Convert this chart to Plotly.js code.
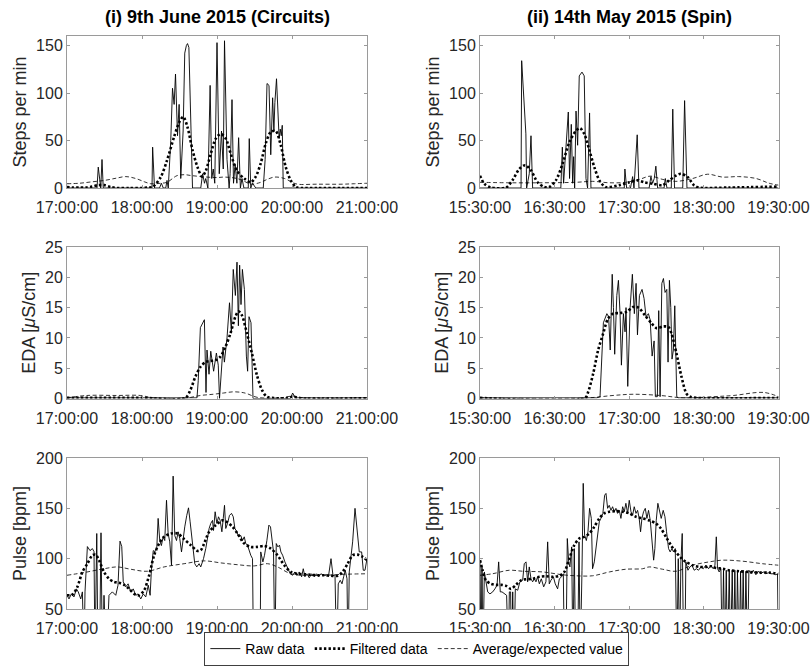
<!DOCTYPE html>
<html>
<head>
<meta charset="utf-8">
<script src="https://cdn.plot.ly/plotly-3.0.1.min.js"></script>
<style>html,body{margin:0;padding:0;background:#fff;}#chart{width:811px;height:666px;}</style>
</head>
<body>
<div id="chart"></div>
<script>
// ---------- tick labels (minutes from start of each session) ----------
const tickMinutes = [0, 60, 120, 180, 240];
const ticksLeft = ['17:00:00', '18:00:00', '19:00:00', '20:00:00', '21:00:00'];
const ticksRight = ['15:30:00', '16:30:00', '17:30:00', '18:30:00', '19:30:00'];
const colTitles = ['(i) 9th June 2015 (Circuits)', '(ii) 14th May 2015 (Spin)'];
const rowLabels = ['Steps per min', 'EDA [<i>\u03bc</i>S/cm]', 'Pulse [bpm]'];
const seriesNames = ['Raw data', 'Filtered data', 'Average/expected value'];

// ---------- (i) Steps ----------
const stepsL_rawT = [0,24,25,26.5,27,28,29,68,68.5,70,74,75.5,77,79,80,81,83,84.4,85.7,86.8,88.4,89.7,91,92.9,94.2,95.5,96.4,97.5,100.4,107,108.5,110,111,112.7,114.5,115.8,117,118.2,120,121.8,123.6,125,126,128,129.7,130.5,132,133.2,134.5,135.9,137.3,138.7,140,141.5,145,145.8,147,148.4,151,157,158.5,160,161.6,163,164.5,165.5,166.3,167.6,168.7,169.7,170.6,171.4,172.2,173,240];
const stepsL_rawV = [0,0,22,0,0,30,0,0,43,0,0,5,0,0,8,0,50,105,88,120,55,88,10,60,142,150,152,148,0,0,15,5,10,0,108,10,20,5,153,15,60,20,155,30,0,15,93,5,25,5,53,0,10,0,0,52,0,5,0,0,30,110,108,35,95,60,90,115,70,52,62,55,66,0,0];
const stepsL_filtT = [0,5,10,15,20,25,30,35,40,50,60,65,68.5,75,80,85.7,89.7,93,96.4,100.4,104.4,108,111,115,119,123,127,131,136,141.8,147,151,155,159,163,167,171,175,179,183,187,200,220,240];
const stepsL_filtV = [1,0.5,0.5,0.5,1.5,3,3,1,0,0,0,0.5,1,11.5,29,54,69,75,64,40,22,12,18,36,52,57,52,36,18,10,6,12,26,47,59,60,45,22,8,1,0,0,0,0];
const stepsL_avgT = [0,10,20,30,40,47,55,62,67,75,80,88,94,100,112,120,126,136,142,147,155,160,166,174,180,184.5,200,220,230,240];
const stepsL_avgV = [4.5,5,6.5,8,10.5,12,10,6.5,4.5,5,6,13,14,13,11.5,11,11.5,10,7,4,6,9,11.5,10,6,4,4,4,4.5,5];

// ---------- (ii) Steps ----------
const stepsR_rawT = [0,33,33.5,36.9,37.5,39.6,41,42.3,65,66.2,67.2,68.6,71,72,73.4,74.5,75.3,76.1,77.2,78.5,79.8,82,83.8,85.2,86.5,88.1,89.2,116,116.5,117.9,121,122.7,123.8,126.4,127.8,136,137.4,138.8,140.1,141.4,142.8,148,149,150.3,153.8,155,156.4,163,164.5,166.4,240];
const stepsR_rawV = [0,0,134,57,0,15,55,0,0,43,5,35,80,10,67,5,33,0,81,45,118,122,118,10,0,79,0,0,20,0,0,12,0,56,0,0,12,5,10,23,0,0,10,0,0,83,0,0,92,0,0];
const stepsR_filtT = [0,3.5,8.8,21,26,31.6,36.4,41,46.3,51.7,55.7,61,66.4,71.8,77,80.4,83.8,87.9,91.9,96,101,112,120,126.7,132,138.8,146.8,152,157.5,161.5,166.9,172,176,200,240];
const stepsR_filtV = [13,4.5,0.5,0.5,8,20,24,18.5,6,1,1,8,25.5,48,60,63,57,40,22,8,1,3,6,8,6,4.5,3,8,13,15,11.5,3,0.5,0.5,1.5];
const stepsR_avgT = [0,23.6,50,77,90.5,104,117,128,137,147,157.5,171,183,195,208,222,232.5,240];
const stepsR_avgV = [6,5.5,5.5,6,7,5.5,6,9,12.5,9,7,10,14.5,11.5,12,10,5,3];

// ---------- (i) EDA ----------
const edaL_rawT = [0,104,105,106.7,109.9,111.2,112,113.6,115,117.3,119.5,121,122,124.8,125.9,128,130,131.5,133,134.7,136,137.1,138.1,139.2,140.3,141.9,143.5,144.5,145.6,147.2,148.8,178.7,180.5,182.7,240];
const edaL_rawV = [0.1,0.1,3,11.7,13,1,8,4,7.8,4.5,7.5,5.5,0,8.5,6,10,15.8,11,21.3,17,22.5,12,22,15.5,21.3,18,7,4.5,13.5,12.5,0,0,0.9,0.1,0.1];
const edaL_filtT = [0,60,94.7,98.7,102.7,106.7,110.7,114.7,118.7,122.7,126.7,130.7,134.7,137.3,140,144,148,152,156,160,175,180.5,186,240];
const edaL_filtV = [0.1,0.1,0.1,1.4,3.6,5.2,6,6.2,6.3,6.9,8.5,10.7,13.5,14.4,13.7,10.7,7.4,3.8,1.4,0.3,0.05,0.3,0.05,0.05];
const edaL_avgT = [0,16,40,58.7,69,96,106.7,117,125,133,140,144,152,170,181,190,240];
const edaL_avgV = [0.1,0.5,0.5,0.5,0.1,0.1,0.5,0.7,0.9,1.1,1.0,0.8,0.2,0.1,0.4,0.1,0.1];

// ---------- (ii) EDA ----------
const edaR_rawT = [0,94,96.5,99.2,102,103.4,104.7,106.3,107.3,108.3,110,111.3,112.6,113.7,115.3,116.6,117.4,118.8,120.7,122.5,124.1,125.5,126.6,128.2,130.3,131.9,133.5,135.4,136.8,138.4,140,141,142.6,143.7,144.8,146.2,147.5,148.8,150.2,151.2,152.3,153.4,154.4,155.5,156.6,158.2,159.5,240];
const edaR_rawV = [0.1,0.1,0.3,12.5,14,13.5,8,20.5,15,7.3,17,19.5,14,5.5,14,11,15,2,15,20.5,14,19,10.5,17,18,16.5,13.5,14,13,7,9.5,0.3,0.3,14.5,0.3,19,19.8,17.5,18,6,19.5,15,6.5,8,15.3,0.3,0.1,0.1];
const edaR_filtT = [0,84.5,87,91,95,99,103,107,112.6,118,123,127.4,132.7,138,142,147.5,151.5,154,158,162,166,169,175,240];
const edaR_filtV = [0.1,0.1,1.1,4.1,8,10.7,13.2,14,14.1,14.3,15.1,15,13.7,12.4,11.6,11.9,11.8,10.7,7.4,3.6,0.8,0.3,0.1,0.1];
const edaR_avgT = [0,86,107,123,145,163.6,187.7,203.8,228,240];
const edaR_avgV = [0.1,0.1,0.5,0.7,0.5,0.1,0.3,0.5,1.0,0.3];

// ---------- (i) Pulse ----------
const pulseL_rawT = [0,1.6,3.5,5.6,7.5,9,11,12.3,13.6,14.4,16.3,18.4,20.3,21.6,22.4,23.8,24.8,26,27.2,28.3,29.6,31.5,33.6,36.3,39,40.8,42.4,43.8,45,47,48.9,51,53,55,56.9,59,61,63,65,66.5,67.5,69,70.5,71.8,72.9,74.2,75.5,76.9,78.2,79.6,80.9,82.2,83.6,84.9,86.2,87.6,88.9,90.2,91.6,92.9,94.2,95.8,97.2,98.5,100.4,102.2,103.8,105.7,107,109.2,111,112.4,113.7,115,116.4,117.2,118.5,119.9,121.2,122.5,123.9,125,126,127,128.4,130,131.6,133,134.3,135.9,137.2,139,140.4,141.8,143,144.4,145.8,147,148.4,149.2,154.5,155,156.7,158,159.9,161.5,162.8,164.2,165.2,166.3,167.4,168.7,170,171.1,172.5,174.3,176.5,178.6,180.5,182.3,183.9,185.8,187.7,189,190.3,191.9,193.8,195.7,197.8,199.7,201.3,203.1,205.3,207.2,209.3,211.2,212.8,214.4,215.7,217,218.6,220,221.3,222.6,224,224.8,225.8,227.2,228.5,230.4,232,233.8,235.7,237,238.4,240];
const pulseL_rawV = [63.6,60,65,62,70,67,60,67,0,67,112,108,110,107,0,125,0,0,125.7,0,63.6,0,63.6,67,63.6,73.6,117.4,112,77,72,75,67,70,63.6,65,60,65,62,73.6,63.6,88.5,108,107,110,140,118,113,121.7,118,158,125,116.7,93.5,182,123,118,126.7,120,106.7,120,131.6,143,150.5,136.6,113.4,95,91.8,95,91.8,100,110,123,130,135,138,128,146.6,135,141.6,138,126.7,140,153,130,135,143,145,141.6,130,126.7,121.7,123,118,121.7,115,113.4,106.7,103.4,100,0,0,106.7,96.8,103.4,118,133.3,131.6,113.4,106.7,0,115,111.7,113.4,106.7,103.4,96.8,90,85,83.5,86.8,83.5,86.8,82,90,82,85,81,85,82,85,82,85,83.5,84,83.5,100,83,84,0,75,78.5,75,82,88.5,80,0,86.8,100,116.7,150,126.7,106.7,106.7,88.5,88.5,100];
const pulseL_filtT = [0,4.3,8.3,12.3,16.3,20.3,23,25.6,29.6,33.6,37.6,41.6,45.6,49.7,53.7,57.7,61.7,65.7,69.7,73.7,77.7,83,88.4,93.7,99,104.4,107,109.7,113.7,119,124.4,128.4,132.4,136.4,141.8,147,152.4,157.8,163,168.4,173.8,179.1,184.5,189.8,195,200.5,205.8,211,216.5,220.5,224.5,228.5,232.5,236.5,240];
const pulseL_filtV = [63.6,64.3,72,86.8,95,103.4,104,98.5,86.8,80,77,76,74,70,65,63.6,68.6,83.5,103.4,115,121.7,125,125,119.4,113.4,107.7,108.4,115,126.7,133.3,138,136,131.6,125,115,111.7,111.7,112.7,110,103.4,93.5,86.8,85,84.5,84,83.5,83.5,83,83,86.8,95,103.4,104,101.8,98.5];
const pulseL_avgT = [0,13.6,29.6,40.3,51,64.3,77.7,93.7,109.7,123,136.4,149.8,160.4,168.4,179,189.8,205.8,221.8,240];
const pulseL_avgV = [83.5,86.2,90,91.8,89.5,87.5,91.8,95,97.8,95.8,94,92.8,95,91.8,85,83.5,83.5,84.5,85];

// ---------- (ii) Pulse ----------
const pulseR_rawT = [0,0.8,1.6,2.4,3.5,4.8,6.2,8,10.2,12,13.7,15,16.3,17.7,19.6,21.4,22.8,23.6,24.6,25.4,26.3,27.3,28.4,30.3,32.1,34.3,35.6,37,38.3,39.6,41,42.3,43.7,45,46.3,47.7,49.3,51.2,53,54.4,55.7,57,59,60.5,62.4,63.8,65.6,67,67.8,69.1,70.2,71.3,72.3,73.7,74.7,75.8,76.9,78.5,79.6,80.6,82,83,84.1,85.5,86.8,88.1,89.5,90.5,91.9,93.2,94.6,95.9,97.2,98.8,100.2,101.3,102.6,103.9,105.3,106.6,108,109.3,110.6,112,113.3,114.7,116,117.3,118.7,120,121.4,122.7,124,125.4,126.7,128,129.1,130.2,131.5,132.9,134.2,135.5,136.9,138.2,139.6,140.6,141.7,143,144.4,145.7,147.3,148.7,150,151.6,152.9,154.3,155.6,157,158.3,159.4,160.5,161.5,162.6,163.7,164.7,165.5,167.2,168.8,170.4,172.2,174,175.7,177.6,179.5,181.6,183.8,185.6,187.5,188.9,190,191,192.3,193.7,194.7,195.8,196.9,198,199,200.4,201.4,202.8,203.9,204.9,206,207,208.4,209.5,210.5,211.6,212.7,213.8,215.1,216.2,218,219.7,221.8,224,225.8,227.7,229.8,232,233.9,236,237.9,239.2,240];
const pulseR_rawV = [98.5,0,91.8,0,86.8,75,67,65,67,70,73.6,96.8,67,67,65,63.6,0,67,67,0,67,0,70,68.6,77,78.5,95,96.8,77,91.8,80,77,80,77,82,75,80,72,77,116.7,75,78.5,82,75,70,80,82,85,0,0,120,96.8,91.8,111.7,0,110,0,0,116.7,0,88.5,174.8,123.4,118,126.7,150,140,90,96.8,110,126.7,136.6,140,145,163,164.8,150,153,148,151.6,146.6,150,145,148,140,151.6,146.6,155,145,158,146.6,143,151.6,145,148,140,126.7,140,146.6,150,140,148,138,116.7,98.5,110,138,155,146.6,140,148,141.6,126.7,110,106.7,110,106.7,110,0,100,0,96.8,125,0,0,96.8,88.5,91.8,93.5,88.5,90,88.5,91.8,90,93.5,90,93.5,90,93.5,121.7,90,86.8,90,0,88.5,0,88.5,0,88.5,0,88.5,0,88.5,0,87.5,0,87.5,0,88.5,0,87.5,0,88.5,85,88.5,84,87.5,85,86.8,85,86,85,85,84,85,0];
const pulseR_filtT = [0,2.1,4.8,8.8,12.9,16.9,20.9,24.9,28.9,33,37,42.3,47.7,53,58.4,63.8,67.8,71.8,75.8,79.8,83.8,87.9,91.9,95.9,99.9,104,109.3,114.7,120,125.4,130.7,136,141.4,145.5,149.5,153.5,157.5,161.5,165.5,170.9,176.3,181.6,185.6,189.7,195,200.4,208.4,216.4,224.5,232.5,240];
const pulseR_filtV = [98.5,88.5,78.5,75,74,74,73,70,74,78.5,79.5,80,82,82.5,82,83,86.8,100,113.4,120,121.7,125,131.6,140,145,146.6,147.2,146.6,145,141.6,140,138,135,130,121.7,113.4,106.7,100.8,96.8,93.5,91.8,91.8,92.5,90.8,90,88.5,87.5,86.8,86.2,86.2,85];
const pulseR_avgT = [0,10,23.6,34.3,50.4,66.4,77,90.5,104,117.3,130.7,136,146.8,157.5,170.9,184.3,195,211,227,240];
const pulseR_avgV = [83.5,85,88.5,87.5,86.8,84,83,83,86.8,89.5,90,91.8,89.5,87.5,93.5,96.8,98.5,97.5,95,93.5];

// ---------- assemble ----------
const panels = [
  {ax: '', raw: [stepsL_rawT, stepsL_rawV], filt: [stepsL_filtT, stepsL_filtV], avg: [stepsL_avgT, stepsL_avgV]},
  {ax: '2', raw: [stepsR_rawT, stepsR_rawV], filt: [stepsR_filtT, stepsR_filtV], avg: [stepsR_avgT, stepsR_avgV]},
  {ax: '3', raw: [edaL_rawT, edaL_rawV], filt: [edaL_filtT, edaL_filtV], avg: [edaL_avgT, edaL_avgV]},
  {ax: '4', raw: [edaR_rawT, edaR_rawV], filt: [edaR_filtT, edaR_filtV], avg: [edaR_avgT, edaR_avgV]},
  {ax: '5', raw: [pulseL_rawT, pulseL_rawV], filt: [pulseL_filtT, pulseL_filtV], avg: [pulseL_avgT, pulseL_avgV]},
  {ax: '6', raw: [pulseR_rawT, pulseR_rawV], filt: [pulseR_filtT, pulseR_filtV], avg: [pulseR_avgT, pulseR_avgV]}
];

const traces = [];
panels.forEach((p, i) => {
  const first = i === 0;
  traces.push({x: p.avg[0], y: p.avg[1], xaxis: 'x' + p.ax, yaxis: 'y' + p.ax, type: 'scatter', mode: 'lines',
    name: seriesNames[2], legendrank: 3, showlegend: first, hoverinfo: 'skip',
    line: {color: '#000', width: 0.8, dash: '4px,2.5px', shape: 'spline', smoothing: 1}});
  traces.push({x: p.raw[0], y: p.raw[1], xaxis: 'x' + p.ax, yaxis: 'y' + p.ax, type: 'scatter', mode: 'lines',
    name: seriesNames[0], legendrank: 1, showlegend: first, hoverinfo: 'skip',
    line: {color: '#000', width: 0.9}});
  traces.push({x: p.filt[0], y: p.filt[1], xaxis: 'x' + p.ax, yaxis: 'y' + p.ax, type: 'scatter', mode: 'lines',
    name: seriesNames[1], legendrank: 2, showlegend: first, hoverinfo: 'skip',
    line: {color: '#000', width: 2.6, dash: '2.4px,2.2px', shape: 'spline', smoothing: 0.8}});
});

const W = 811, H = 666;
const colX = [[67, 367], [480, 778.5]];
const rowY = [[36, 188], [247, 398.5], [458, 609]];
const yRanges = [[0, 160], [0, 25], [50, 200]];
const yTicks = [[0, 50, 100, 150], [0, 5, 10, 15, 20, 25], [50, 100, 150, 200]];
const FONT = 'Liberation Sans, Arial, Helvetica, sans-serif';

const layout = {
  width: W, height: H,
  margin: {l: 0, r: 0, t: 0, b: 0},
  paper_bgcolor: '#fff', plot_bgcolor: '#fff',
  font: {family: FONT, color: '#262626', size: 16},
  showlegend: true,
  legend: {orientation: 'h', x: 0.514, xanchor: 'center', y: 0, yanchor: 'bottom',
    bordercolor: '#404040', borderwidth: 1, bgcolor: '#fff',
    font: {family: FONT, size: 14, color: '#000'}, traceorder: 'normal', itemwidth: 30,
    tracegroupgap: 0},
  annotations: []
};

for (let r = 0; r < 3; r++) {
  for (let c = 0; c < 2; c++) {
    const idx = r * 2 + c + 1;
    const s = idx === 1 ? '' : String(idx);
    layout['xaxis' + s] = {
      domain: [colX[c][0] / W, colX[c][1] / W], anchor: 'y' + s,
      range: [0, 240], tickvals: tickMinutes, ticktext: c === 0 ? ticksLeft : ticksRight,
      showgrid: false, zeroline: false, showline: true, mirror: 'ticks', linecolor: '#9a9a9a', linewidth: 1,
      ticks: 'inside', ticklen: 3, tickcolor: '#9a9a9a', tickfont: {size: 16, color: '#262626'},
      ticklabelstandoff: 5
    };
    layout['yaxis' + s] = {
      domain: [1 - rowY[r][1] / H, 1 - rowY[r][0] / H], anchor: 'x' + s,
      range: yRanges[r], tickvals: yTicks[r],
      showgrid: false, zeroline: false, showline: true, mirror: 'ticks', linecolor: '#9a9a9a', linewidth: 1,
      ticks: 'inside', ticklen: 3, tickcolor: '#9a9a9a', tickfont: {size: 16, color: '#262626'},
      title: {text: rowLabels[r], font: {size: 18, color: '#262626'}, standoff: 4}
    };
  }
}

colTitles.forEach((t, c) => {
  layout.annotations.push({text: '<b>' + t + '</b>', xref: 'paper', yref: 'paper',
    x: (colX[c][0] + colX[c][1]) / 2 / W, y: 1 - 17 / H, xanchor: 'center', yanchor: 'middle',
    showarrow: false, font: {family: FONT, size: 18, color: '#000'}});
});

Plotly.newPlot('chart', traces, layout, {displayModeBar: false, staticPlot: true});
</script>
</body>
</html>
